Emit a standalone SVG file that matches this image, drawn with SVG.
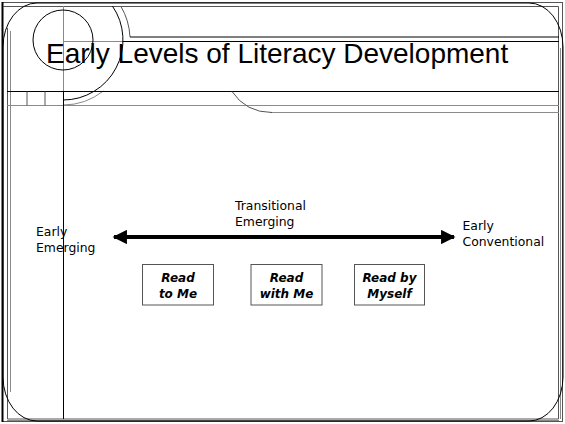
<svg xmlns="http://www.w3.org/2000/svg" width="565" height="424" viewBox="0 0 565 424">
<style>
.k{fill:none;stroke:#000;stroke-width:1}
.g{fill:none;stroke:#8a8a8a;stroke-width:1}
.d{fill:none;stroke:#555;stroke-width:1}
.t{font-family:"DejaVu Sans",sans-serif;font-size:12.4px;fill:#000}
.b{font-family:"DejaVu Sans",sans-serif;font-size:12px;font-weight:bold;font-style:italic;fill:#000;text-anchor:middle}
.box{fill:#fff;stroke:#555;stroke-width:1}
</style>
<defs>
<marker id="ah" viewBox="0 0 10 10" refX="9" refY="5" markerWidth="4" markerHeight="3.6" orient="auto-start-reverse" markerUnits="strokeWidth">
<path d="M0,0 L10,5 L0,10 Z" fill="#000"/>
</marker>
</defs>
<rect width="565" height="424" fill="#fff"/>
<g id="frame">
<rect x="2.5" y="2.5" width="560" height="419" class="d"/>
<line x1="2.5" y1="2" x2="2.5" y2="422" stroke="#000" stroke-width="2"/>
<path d="M7.5,28 V419 H558.5 V6.5 H3" class="d"/>
<line x1="10.5" y1="31" x2="10.5" y2="392" class="g"/>
<line x1="560.5" y1="48" x2="560.5" y2="419" class="g"/>
<line x1="7" y1="420.5" x2="559" y2="420.5" class="g"/>
<rect x="3" y="3" width="560" height="418" rx="34" ry="44" class="k"/>
</g>
<g id="decor">
<line x1="63.5" y1="6" x2="63.5" y2="91" class="g"/>
<line x1="63" y1="41.5" x2="123" y2="41.5" class="g"/>
<circle cx="63" cy="40" r="30" class="k"/>
<path d="M112.4,6 A60 60 0 0 1 63,100" class="k"/>
<path d="M120.7,6 A67 67 0 0 1 130,37" class="d"/>
<path d="M63,105 A65 65 0 0 0 103.3,91" class="g"/>
<line x1="130" y1="37" x2="559" y2="37" class="k"/>
<line x1="123" y1="41.5" x2="559" y2="41.5" class="k"/>
<line x1="7" y1="91.5" x2="559" y2="91.5" class="k"/>
<line x1="7" y1="105.5" x2="559" y2="105.5" class="g"/>
<line x1="270" y1="112.5" x2="559" y2="112.5" class="g"/>
<path d="M232,91.5 Q246,112.5 272,112.5" class="d"/>
<line x1="27" y1="91.5" x2="27" y2="105.5" class="d"/>
<line x1="45" y1="91.5" x2="45" y2="105.5" class="d"/>
<line x1="63.5" y1="91" x2="63.5" y2="419" class="k"/>
</g>
<g id="title">
<text x="46" y="63" font-family="'Liberation Sans',Arial,sans-serif" font-size="28" fill="#000">Early Levels of Literacy Development</text>
</g>
<g id="connectors">
<line x1="114" y1="237" x2="454" y2="237" stroke="#000" stroke-width="4" marker-start="url(#ah)" marker-end="url(#ah)"/>
</g>
<g id="early-emerging">
<text class="t" x="36" y="235.5">Early</text>
<text class="t" x="36" y="251.5">Emerging</text>
</g>
<g id="transitional-emerging">
<text class="t" x="235" y="210">Transitional</text>
<text class="t" x="235" y="226">Emerging</text>
</g>
<g id="early-conventional">
<text class="t" x="462.5" y="229.5">Early</text>
<text class="t" x="462.5" y="245.5">Conventional</text>
</g>
<g id="read-to-me">
<rect class="box" x="142.5" y="264.5" width="71" height="40.5"/>
<text class="b" x="178" y="281.5">Read</text>
<text class="b" x="178" y="297.5">to Me</text>
</g>
<g id="read-with-me">
<rect class="box" x="251" y="264.5" width="71" height="40.5"/>
<text class="b" x="286.5" y="281.5">Read</text>
<text class="b" x="286.5" y="297.5">with Me</text>
</g>
<g id="read-by-myself">
<rect class="box" x="354.5" y="264.5" width="70" height="40.5"/>
<text class="b" x="389.5" y="281.5">Read by</text>
<text class="b" x="389.5" y="297.5">Myself</text>
</g>
</svg>
